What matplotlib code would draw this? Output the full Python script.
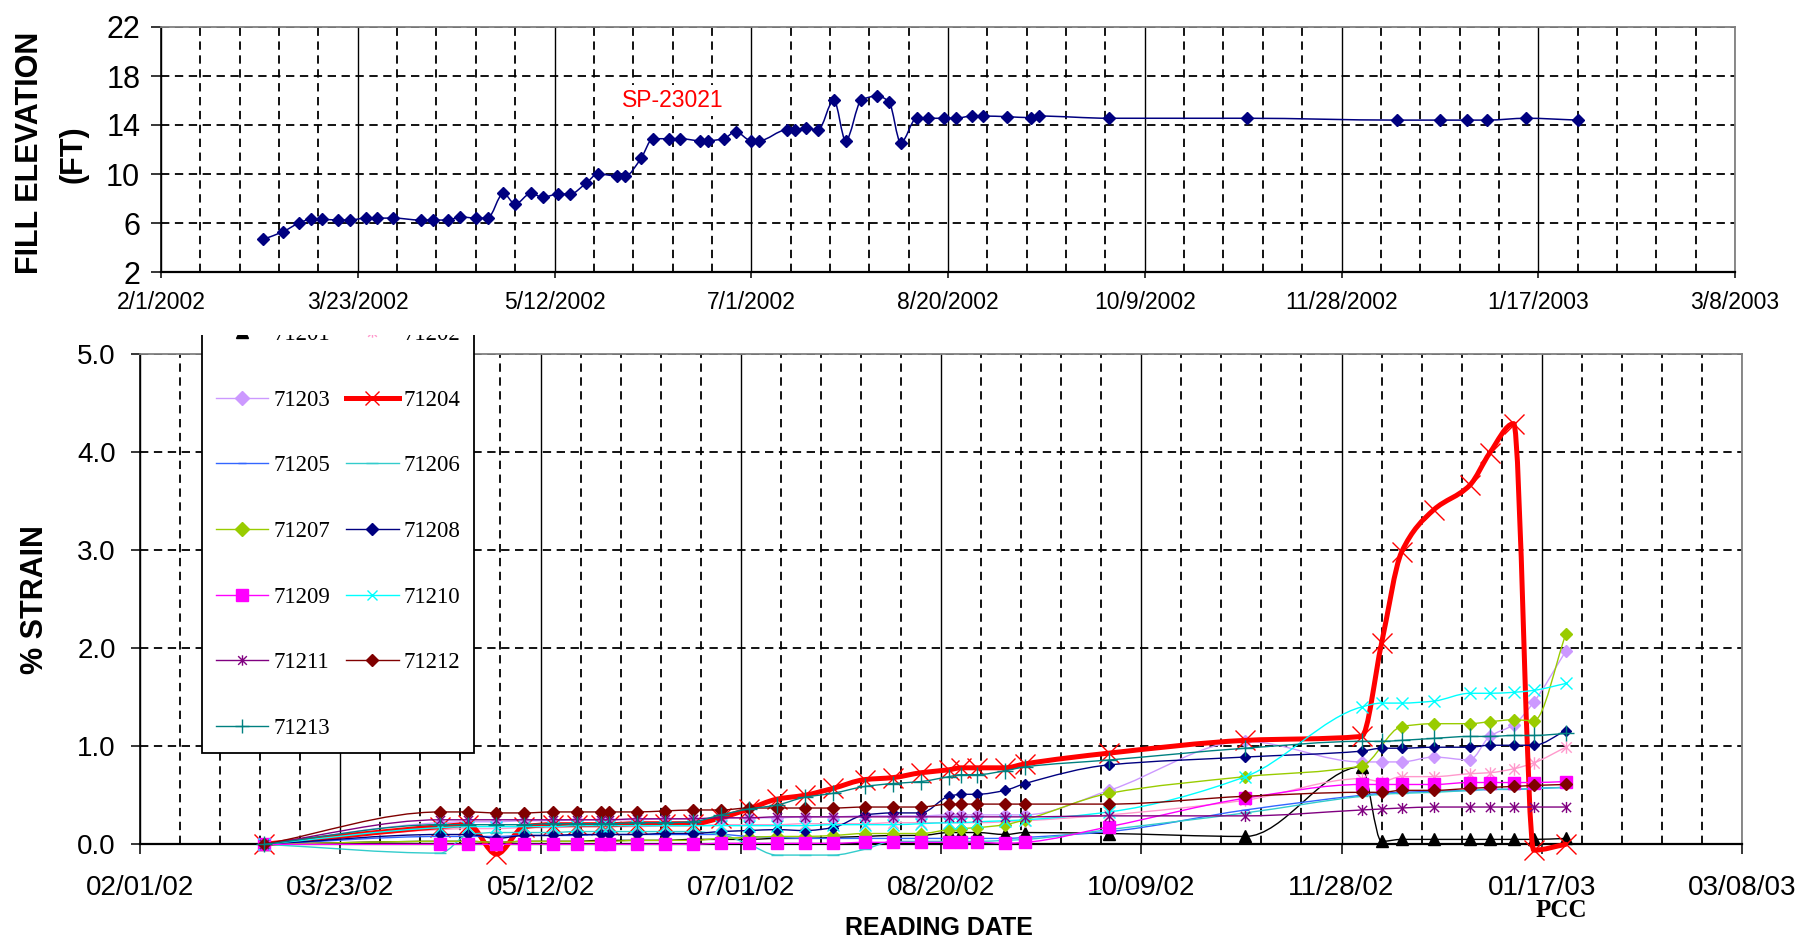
import numpy as np
import matplotlib
matplotlib.use("Agg")
import matplotlib.pyplot as plt
import matplotlib.dates as mdates
from matplotlib import font_manager
from matplotlib.path import Path
from matplotlib.patches import PathPatch, Rectangle
from matplotlib.lines import Line2D
from matplotlib.ticker import FixedLocator, FuncFormatter, MultipleLocator

# ---- fill elevation, SP-23021 ----
fill_dates = ["2002-02-27", "2002-03-04", "2002-03-08", "2002-03-11", "2002-03-14", "2002-03-18",
              "2002-03-21", "2002-03-25", "2002-03-28", "2002-04-01", "2002-04-08", "2002-04-11",
              "2002-04-15", "2002-04-18", "2002-04-22", "2002-04-25", "2002-04-29", "2002-05-02",
              "2002-05-06", "2002-05-09", "2002-05-13", "2002-05-16", "2002-05-20", "2002-05-23",
              "2002-05-28", "2002-05-30", "2002-06-03", "2002-06-06", "2002-06-10", "2002-06-13",
              "2002-06-18", "2002-06-20", "2002-06-24", "2002-06-27", "2002-07-01", "2002-07-03",
              "2002-07-10", "2002-07-12", "2002-07-15", "2002-07-18", "2002-07-22", "2002-07-25",
              "2002-07-29", "2002-08-02", "2002-08-05", "2002-08-08", "2002-08-12", "2002-08-15",
              "2002-08-19", "2002-08-22", "2002-08-26", "2002-08-29", "2002-09-04", "2002-09-10",
              "2002-09-12", "2002-09-30", "2002-11-04", "2002-12-12", "2002-12-23", "2002-12-30",
              "2003-01-04", "2003-01-14", "2003-01-27"]
fill_ft = [4.67, 5.29, 5.98, 6.30, 6.30, 6.24, 6.24, 6.40, 6.40, 6.40, 6.24, 6.24, 6.24, 6.50,
           6.40, 6.40, 8.42, 7.55, 8.42, 8.10, 8.37, 8.37, 9.24, 10.00, 9.84, 9.84, 11.28, 12.88,
           12.88, 12.88, 12.72, 12.72, 12.88, 13.45, 12.72, 12.72, 13.60, 13.60, 13.73, 13.60,
           16.04, 12.72, 16.04, 16.37, 15.90, 12.55, 14.55, 14.55, 14.55, 14.55, 14.73, 14.73,
           14.68, 14.60, 14.73, 14.55, 14.55, 14.40, 14.40, 14.40, 14.40, 14.55, 14.40]

# ---- strain gauges ----
strain_dates = ["2002-03-04", "2002-04-17", "2002-04-24", "2002-05-01", "2002-05-08", "2002-05-15",
                "2002-05-21", "2002-05-27", "2002-05-29", "2002-06-05", "2002-06-12", "2002-06-19",
                "2002-06-26", "2002-07-03", "2002-07-10", "2002-07-17", "2002-07-24", "2002-08-01",
                "2002-08-08", "2002-08-15", "2002-08-22", "2002-08-25", "2002-08-29", "2002-09-05",
                "2002-09-10", "2002-10-01", "2002-11-04", "2002-12-03", "2002-12-08", "2002-12-13",
                "2002-12-21", "2002-12-30", "2003-01-04", "2003-01-10", "2003-01-15", "2003-01-23"]
nan = np.nan
s71201 = [0.0, 0.03, 0.03, 0.02, 0.03, 0.03, 0.03, 0.04, 0.04, 0.04, 0.04, 0.05, 0.05, 0.05, 0.06,
          0.06, 0.07, 0.08, 0.09, 0.09, 0.12, 0.12, 0.12, 0.10, 0.12, 0.11, 0.08, 0.79, 0.03, 0.05,
          0.05, 0.05, 0.05, 0.05, 0.05, 0.06]
s71202 = [0.0, 0.15, 0.16, 0.16, 0.17, 0.17, 0.18, 0.18, 0.18, 0.18, 0.19, 0.19, 0.20, 0.20, 0.20,
          0.21, 0.21, 0.21, 0.22, 0.22, 0.22, 0.22, 0.22, 0.23, 0.24, 0.30, 0.45, 0.67, 0.64, 0.69,
          0.69, 0.72, 0.73, 0.77, 0.83, 0.99]
s71203 = [0.0, 0.22, 0.23, 0.23, 0.24, 0.24, 0.25, 0.25, 0.25, 0.25, 0.26, 0.26, 0.27, 0.27, 0.27,
          0.28, 0.28, 0.29, 0.29, 0.29, 0.30, 0.30, 0.30, 0.30, 0.30, 0.55, 1.05, 0.84, 0.84, 0.84,
          0.89, 0.86, 1.10, 1.22, 1.45, 1.97]
s71204 = [0.0, 0.18, 0.20, -0.10, 0.18, 0.20, 0.20, 0.20, 0.20, 0.21, 0.21, 0.21, 0.27, 0.36, 0.46,
          0.50, 0.57, 0.66, 0.68, 0.73, 0.76, 0.78, 0.78, 0.78, 0.82, 0.93, 1.06, 1.10, 2.05, 2.98,
          3.41, 3.66, 3.99, 4.29, -0.06, 0.0]
s71205 = [0.0, 0.08, 0.08, 0.08, 0.09, 0.09, 0.09, 0.10, 0.10, 0.10, 0.10, 0.10, 0.10, 0.08, 0.07,
          0.06, 0.06, 0.06, 0.06, 0.06, 0.06, 0.06, 0.06, 0.06, 0.07, 0.13, 0.35, 0.50, 0.52, 0.53,
          0.54, 0.55, 0.56, 0.56, 0.57, 0.58]
s71206 = [0.0, -0.09, 0.10, 0.12, 0.12, 0.12, 0.13, 0.13, 0.13, 0.13, 0.13, 0.13, 0.10, 0.0, -0.11,
          -0.11, -0.11, -0.05, 0.03, 0.03, 0.03, 0.03, 0.03, 0.04, 0.05, 0.15, 0.32, 0.49, 0.51,
          0.52, 0.53, 0.55, 0.56, 0.56, 0.57, 0.58]
s71207 = [0.0, 0.03, 0.03, 0.02, 0.03, 0.03, 0.03, 0.03, 0.03, 0.04, 0.04, 0.04, 0.06, 0.07, 0.08,
          0.08, 0.09, 0.11, 0.11, 0.11, 0.15, 0.16, 0.17, 0.20, 0.25, 0.52, 0.69, 0.80, nan, 1.20,
          1.23, 1.23, 1.25, 1.27, 1.26, 2.14]
s71208 = [0.0, 0.10, 0.10, 0.06, 0.09, 0.09, 0.10, 0.10, 0.10, 0.10, 0.11, 0.11, 0.13, 0.14, 0.15,
          0.14, 0.17, 0.30, 0.32, 0.32, 0.49, 0.51, 0.51, 0.55, 0.62, 0.81, 0.89, 0.95, 0.98, 0.98,
          0.99, 0.99, 1.01, 1.01, 1.01, 1.16]
s71209 = [0.0, 0.0, 0.0, 0.0, 0.0, 0.0, 0.0, 0.0, 0.0, 0.0, 0.0, 0.0, 0.01, 0.01, 0.01, 0.01, 0.01,
          0.02, 0.02, 0.02, 0.02, 0.02, 0.02, 0.01, 0.02, 0.18, 0.47, 0.61, 0.61, 0.61, 0.61, 0.63,
          0.63, 0.63, 0.63, 0.64]
s71210 = [0.0, 0.17, 0.18, 0.18, 0.18, 0.18, 0.19, 0.19, 0.19, 0.19, 0.19, 0.19, 0.19, 0.19, 0.19,
          0.19, 0.20, 0.20, 0.20, 0.21, 0.22, 0.22, 0.23, 0.24, 0.25, 0.33, 0.69, 1.40, 1.44, 1.44,
          1.46, 1.54, 1.54, 1.55, 1.57, 1.64]
s71211 = [0.0, 0.25, 0.25, 0.25, 0.25, 0.25, 0.25, 0.25, 0.25, 0.26, 0.26, 0.26, 0.27, 0.27, 0.28,
          0.28, 0.28, 0.28, 0.28, 0.28, 0.28, 0.28, 0.28, 0.28, 0.28, 0.29, 0.29, 0.35, 0.36, 0.37,
          0.38, 0.38, 0.38, 0.38, 0.38, 0.38]
s71212 = [0.0, 0.33, 0.33, 0.32, 0.32, 0.33, 0.33, 0.33, 0.33, 0.33, 0.34, 0.35, 0.35, 0.37, 0.37,
          0.37, 0.37, 0.38, 0.38, 0.38, 0.41, 0.41, 0.41, 0.41, 0.41, 0.41, 0.49, 0.53, 0.53, 0.55,
          0.55, 0.57, 0.58, 0.59, 0.60, 0.61]
s71213 = [0.0, 0.20, 0.20, 0.20, 0.20, 0.21, 0.21, 0.21, 0.21, 0.22, 0.22, 0.23, 0.30, 0.36, 0.40,
          0.48, 0.52, 0.59, 0.62, 0.64, 0.69, 0.71, 0.71, 0.75, 0.79, 0.86, 0.98, 1.05, 1.05, 1.06,
          1.08, 1.10, 1.10, 1.11, 1.11, 1.13]

gauge_names = ["71201", "71202", "71203", "71204", "71205", "71206", "71207",
               "71208", "71209", "71210", "71211", "71212", "71213"]
gauge_values = [s71201, s71202, s71203, s71204, s71205, s71206, s71207,
                s71208, s71209, s71210, s71211, s71212, s71213]

tick_dates = ["2002-02-01", "2002-03-23", "2002-05-12", "2002-07-01", "2002-08-20",
              "2002-10-09", "2002-11-28", "2003-01-17", "2003-03-08"]
elev_ticks = [2, 6, 10, 14, 18, 22]

# ---- styling ----
names = {f.name for f in font_manager.fontManager.ttflist}
NARROW = "Liberation Sans Narrow" if "Liberation Sans Narrow" in names else "Liberation Sans"
plt.rcParams["font.family"] = "Liberation Sans"
plt.rcParams["lines.scale_dashes"] = False
DASH = (0, (6, 4))

# X with a vertical stroke, the spreadsheet "star" marker
STAR = Path([(-1, -1), (1, 1), (-1, 1), (1, -1), (0, -1.2), (0, 1.2)],
            [Path.MOVETO, Path.LINETO, Path.MOVETO, Path.LINETO, Path.MOVETO, Path.LINETO])

# color, line width, marker, plot marker size, legend marker size
styles = {
    "71201": ("#000000", 1.0, "^", 8.5, 8.5),
    "71202": ("#FF99CC", 1.0, STAR, 9, 7.5),
    "71203": ("#CC99FF", 1.0, "D", 6, 7),
    "71204": ("#FF0000", 3.6, "x", 15, 10),
    "71205": ("#3366FF", 1.0, "_", 6, 6),
    "71206": ("#33CCCC", 1.0, "_", 8, 8),
    "71207": ("#99CC00", 1.0, "D", 6, 7),
    "71208": ("#000080", 1.0, "D", 5.5, 6.5),
    "71209": ("#FF00FF", 1.0, "s", 8, 9),
    "71210": ("#00FFFF", 1.0, "x", 8, 7.5),
    "71211": ("#800080", 1.0, STAR, 8, 7.5),
    "71212": ("#800000", 1.0, "D", 6, 6.5),
    "71213": ("#008080", 1.0, "+", 11, 10),
}


def smooth_path(x, y):
    # monotone cubic through the readings, as bezier segments
    h = np.diff(x)
    d = np.diff(y) / h
    m = np.zeros_like(y)
    m[0], m[-1] = d[0], d[-1]
    for i in range(1, len(y) - 1):
        if d[i - 1] * d[i] > 0:
            w1 = 2 * h[i] + h[i - 1]
            w2 = h[i] + 2 * h[i - 1]
            m[i] = (w1 + w2) / (w1 / d[i - 1] + w2 / d[i])
    verts = [(x[0], y[0])]
    codes = [Path.MOVETO]
    for i in range(len(h)):
        verts += [(x[i] + h[i] / 3, y[i] + m[i] * h[i] / 3),
                  (x[i + 1] - h[i] / 3, y[i + 1] - m[i + 1] * h[i] / 3),
                  (x[i + 1], y[i + 1])]
        codes += [Path.CURVE4] * 3
    return Path(verts, codes)


def draw_series(ax, x, y, color, lw, marker, ms, zorder):
    x = np.asarray(x, float)
    y = np.asarray(y, float)
    ok = ~np.isnan(y)
    ax.add_patch(PathPatch(smooth_path(x[ok], y[ok]), fill=False, edgecolor=color, lw=lw,
                           zorder=zorder, clip_on=False, joinstyle="round", capstyle="round"))
    ax.plot(x[ok], y[ok], linestyle="none", marker=marker, ms=ms, mfc=color, mec=color,
            mew=1.0, zorder=zorder + 0.1, clip_on=False)


def date_grid(ax, ticks):
    ax.set_xlim(ticks[0], ticks[-1])
    ax.xaxis.set_major_locator(FixedLocator(ticks))
    ax.xaxis.set_minor_locator(FixedLocator(np.arange(ticks[0], ticks[-1], 10)))
    ax.grid(which="major", axis="x", color="black", lw=1.0, ls="-")
    ax.grid(which="minor", axis="x", color="black", lw=1.3, ls=DASH)
    ax.grid(which="major", axis="y", color="black", lw=1.3, ls=DASH)
    ax.set_axisbelow(True)
    ax.tick_params(which="minor", length=0)
    for side in ("top", "right"):
        ax.spines[side].set_color("#808080")
        ax.spines[side].set_linewidth(1.3)
    ax.spines["left"].set_linewidth(1.2)
    ax.spines["bottom"].set_linewidth(1.6)


ticks = mdates.date2num(np.array(tick_dates, dtype="datetime64[D]"))
fill_x = mdates.date2num(np.array(fill_dates, dtype="datetime64[D]"))
strain_x = mdates.date2num(np.array(strain_dates, dtype="datetime64[D]"))

fig = plt.figure(figsize=(18.03, 9.39), dpi=100)
fig.patch.set_facecolor("white")
W, H = 1803.0, 939.0

# ---- lower panel: strain ----
ax = fig.add_axes([140 / W, 1 - 844.3 / H, 1602 / W, 490.3 / H], zorder=0)
date_grid(ax, ticks)
ax.set_ylim(0, 5)
ax.yaxis.set_major_locator(MultipleLocator(1.0))
ax.yaxis.set_major_formatter(FuncFormatter(lambda v, p: f"{v:.1f}"))
ax.xaxis.set_major_formatter(FuncFormatter(lambda v, p: mdates.num2date(v).strftime("%m/%d/%y")))
ax.tick_params(axis="both", which="major", labelsize=20, colors="black", width=1.1)
ax.tick_params(axis="y", length=6.5, pad=11)
ax.tick_params(axis="x", length=7, pad=15)

handles = {}
for k, (name, vals) in enumerate(zip(gauge_names, gauge_values)):
    color, lw, marker, ms, lms = styles[name]
    draw_series(ax, strain_x, vals, color, lw, marker, ms, zorder=3 + 0.2 * k)
    handles[name] = Line2D([], [], color=color, lw=lw, marker=marker, ms=lms,
                           mfc=color, mec=color, mew=1.0)

left_col = ["71201", "71203", "71205", "71207", "71209", "71211", "71213"]
right_col = ["71202", "71204", "71206", "71208", "71210", "71212"]
order = left_col + right_col
leg = ax.legend([handles[n] for n in order], order, ncol=2, loc="upper left",
                bbox_to_anchor=(202 / W, 1 - 310 / H), bbox_transform=fig.transFigure,
                prop={"family": "Liberation Serif", "size": 16.5}, numpoints=1,
                labelspacing=1.95, handlelength=2.3, handletextpad=0.2, columnspacing=0.7,
                borderpad=0.6, borderaxespad=0, fancybox=False, framealpha=1.0,
                edgecolor="black")
leg.get_frame().set_linewidth(1.3)
leg.set_zorder(20)

ax.text(mdates.date2num(np.datetime64("2003-01-22")), -0.67, "PCC", family="Liberation Serif",
        fontweight="bold", fontsize=18, ha="center", va="center", clip_on=False, zorder=30)
fig.text(35 / W, 1 - 600 / H, "% STRAIN", rotation=90, fontsize=22, fontweight="bold",
         ha="center", va="center")
fig.text(939 / W, 1 - 928 / H, "READING DATE", family=NARROW, fontsize=18, fontweight="bold",
         ha="center", va="center")

# legend top runs under the upper panel's margin
fig.add_artist(Rectangle((195 / W, 1 - 335 / H), 285 / W, 40 / H, transform=fig.transFigure,
                         facecolor="white", edgecolor="none", zorder=1))

# ---- upper panel: fill elevation ----
ax2 = fig.add_axes([161 / W, 1 - 272 / H, 1574 / W, 245 / H], zorder=2)
date_grid(ax2, ticks)
ax2.set_ylim(2, 22)
ax2.yaxis.set_major_locator(FixedLocator(elev_ticks))
ax2.xaxis.set_major_formatter(FuncFormatter(
    lambda v, p: "{d.month}/{d.day}/{d.year}".format(d=mdates.num2date(v))))
ax2.tick_params(axis="y", labelsize=22, length=7, pad=8, width=1.1)
ax2.tick_params(axis="x", labelsize=16.5, length=4.5, pad=9, width=1.1)
for lab in ax2.get_xticklabels():
    lab.set_family(NARROW)

draw_series(ax2, fill_x, fill_ft, "#000080", 1.1, "D", 6.5, zorder=3)
ax2.text(mdates.date2num(np.datetime64("2002-06-11")), 16.0, "SP-23021", color="red",
         family=NARROW, fontsize=16.5, ha="center", va="center", zorder=5,
         bbox=dict(facecolor="white", edgecolor="none", pad=3))

fig.text(30 / W, 1 - 153 / H, "FILL ELEVATION", rotation=90, fontsize=22, fontweight="bold",
         ha="center", va="center")
fig.text(73 / W, 1 - 154 / H, "(FT)", rotation=90, fontsize=22, fontweight="bold",
         ha="center", va="center")

fig.savefig("out.png", dpi=100, facecolor="white")
